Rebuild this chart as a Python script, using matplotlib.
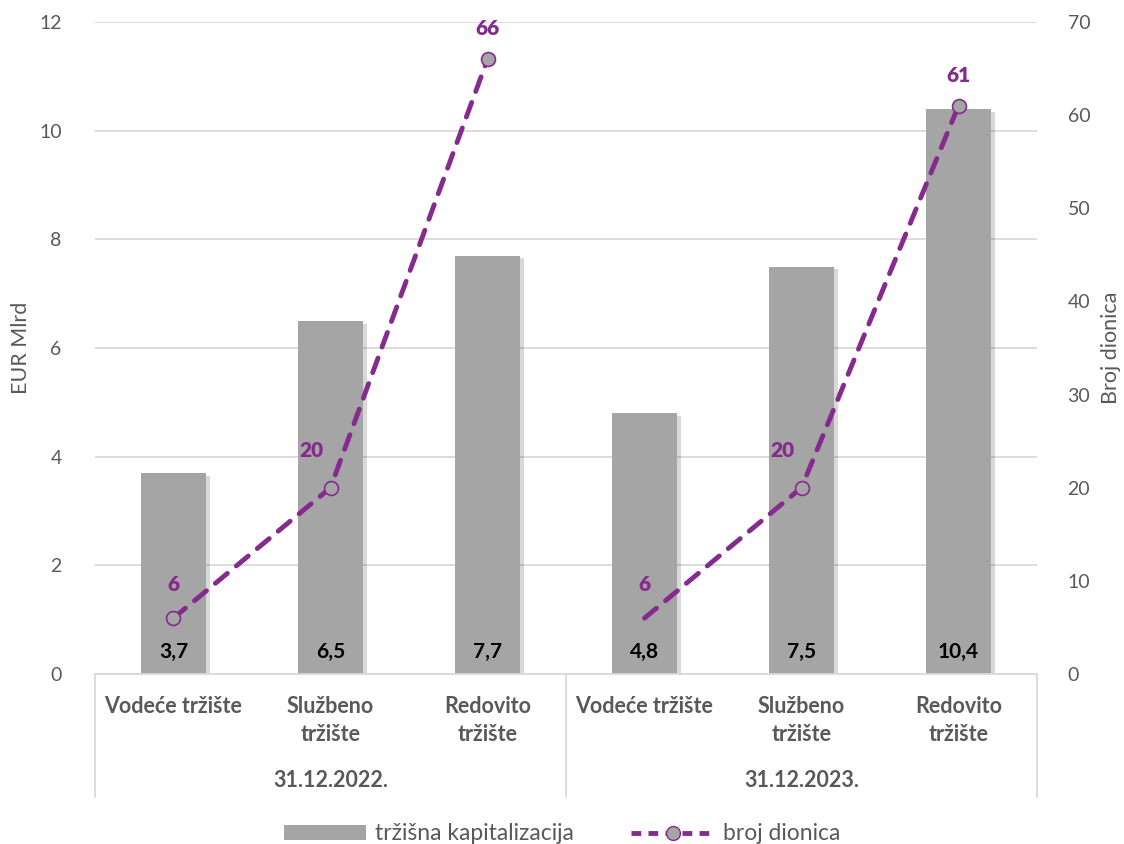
import numpy as np
import matplotlib.pyplot as plt
import matplotlib.patheffects as pe
from matplotlib.lines import Line2D
from matplotlib.patches import Patch
from matplotlib.transforms import blended_transform_factory

plt.rcParams["font.family"] = ["Lato", "DejaVu Sans"]

# data
categories = ["Vodeće tržište", "Službeno\ntržište", "Redovito\ntržište"] * 2
groups = ["31.12.2022.", "31.12.2023."]
kapitalizacija = [3.7, 6.5, 7.7, 4.8, 7.5, 10.4]
broj_dionica = [6, 20, 66, 6, 20, 61]
bar_labels = ["3,7", "6,5", "7,7", "4,8", "7,5", "10,4"]

GRAY = "#A5A5A5"
PURPLE = "#862B8E"
TXT = "#595959"

fig = plt.figure(figsize=(11.24, 8.44), dpi=100)
ax = fig.add_axes([95 / 1124, 1 - 674 / 844, 942 / 1124, 652 / 844])
ax2 = ax.twinx()

x = np.arange(len(categories))
shadow = [pe.SimplePatchShadow(offset=(3, -2), alpha=0.15, shadow_rgbFace="black"), pe.Normal()]
bars = ax.bar(x, kapitalizacija, width=0.41, color=GRAY, zorder=2)
for b in bars:
    b.set_path_effects(shadow)
for xi, lab in zip(x, bar_labels):
    ax.text(xi, 0.22, lab, ha="center", va="bottom", fontsize=15, fontweight="bold", color="black", zorder=3)

ax.set_xlim(-0.5, 5.5)
ax.set_ylim(0, 12)
ax.set_yticks(range(0, 13, 2))
ax.grid(axis="y", color="#D9D9D9", linewidth=1.3, zorder=0)
ax.set_axisbelow(True)
ax.set_xticks([])
for side in ["top", "right", "left"]:
    ax.spines[side].set_visible(False)
    ax2.spines[side].set_visible(False)
ax2.spines["bottom"].set_visible(False)
ax.spines["bottom"].set_color("#D9D9D9")
ax.spines["bottom"].set_linewidth(1.3)
ax.tick_params(axis="y", length=0, labelsize=14, labelcolor=TXT, pad=24)
ax.set_ylabel("EUR Mlrd", fontsize=15.5, color=TXT, labelpad=6)

# line series, drawn per group (no link between groups)
for g in range(2):
    sl = slice(3 * g, 3 * g + 3)
    ax2.plot(x[sl], broj_dionica[sl], color=PURPLE, linewidth=3.5, dashes=(3.2, 2.4),
             dash_capstyle="round", zorder=4)
mk = [0, 1, 2, 4, 5]
ax2.plot(x[mk], np.array(broj_dionica)[mk], linestyle="none", marker="o", markersize=10,
         markerfacecolor=GRAY, markeredgecolor=PURPLE, markeredgewidth=1.2, zorder=5)
offsets = [(0, 24), (-14, 27), (0, 22), (0, 24), (-14, 27), (0, 22)]
for xi, v, off in zip(x, broj_dionica, offsets):
    ax2.annotate(str(v), (xi, v), xytext=off, textcoords="offset points", ha="center",
                 va="center", fontsize=15, fontweight="heavy", color=PURPLE, zorder=6)

ax2.set_ylim(0, 70)
ax2.set_yticks(range(0, 71, 10))
ax2.tick_params(axis="y", length=0, labelsize=14, labelcolor=TXT, pad=22)
ax2.set_ylabel("Broj dionica", fontsize=15.5, color=TXT, labelpad=8)

# category axis below the plot
tr = blended_transform_factory(ax.transData, ax.transAxes)
for xi, cat in zip(x, categories):
    ax.text(xi, -0.033, cat, transform=tr, ha="center", va="top", fontsize=15.5,
            fontweight="bold", color=TXT, linespacing=1.45)
for gi, grp in enumerate(groups):
    ax.text(3 * gi + 1, -0.148, grp, transform=tr, ha="center", va="top", fontsize=15.5,
            fontweight="bold", color=TXT)
for xs in [-0.5, 2.5, 5.5]:
    ax.plot([xs, xs], [0, -0.188], transform=tr, color="#D9D9D9", linewidth=1.3, clip_on=False)

handles = [
    Patch(facecolor=GRAY, edgecolor="none"),
    Line2D([0], [0], color=PURPLE, linewidth=3.5, dashes=(2, 1.5), marker="o", markersize=10,
           markerfacecolor=GRAY, markeredgecolor=PURPLE),
]
fig.legend(handles, ["tržišna kapitalizacija", "broj dionica"], loc="lower center",
           bbox_to_anchor=(0.5, -0.025), ncol=2, frameon=False, fontsize=16.5, labelcolor=TXT,
           handlelength=3.6, handleheight=0.6, handletextpad=0.4, columnspacing=2.5)

fig.savefig("out.png", dpi=100)
